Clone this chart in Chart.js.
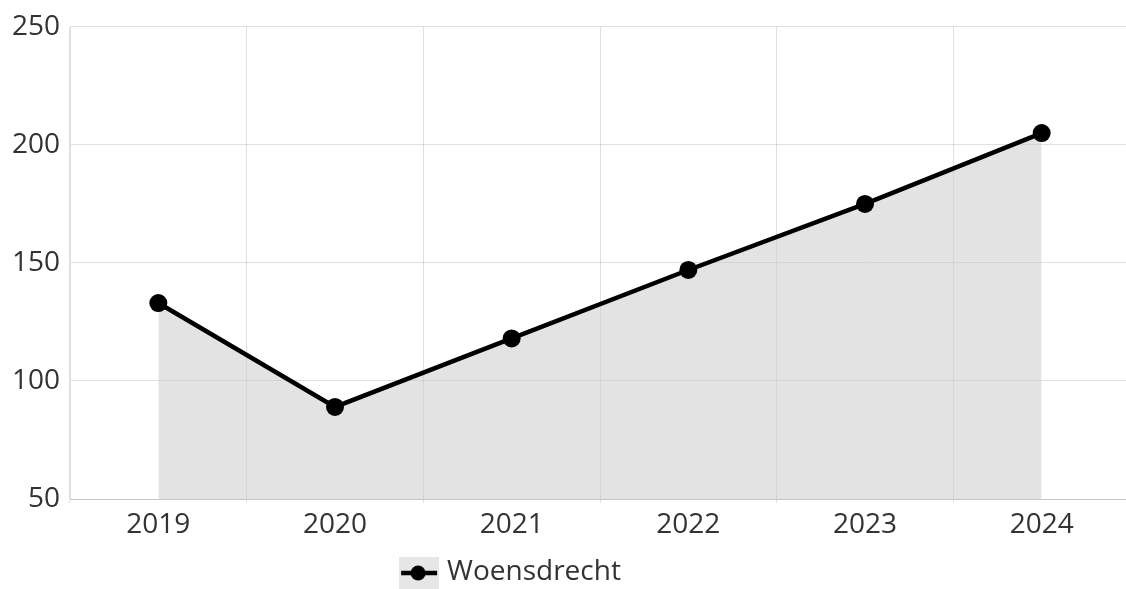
<!DOCTYPE html>
<html>
<head>
<meta charset="utf-8">
<script src="https://cdn.jsdelivr.net/npm/chart.js@4/dist/chart.umd.min.js"></script>
<style>
  html, body { margin: 0; padding: 0; background: #fff; overflow: hidden; }
  #wrap { width: 1130px; height: 589px; }
</style>
</head>
<body>
<div id="wrap"><canvas id="chart"></canvas></div>
<script>
const years = ['2019', '2020', '2021', '2022', '2023', '2024'];
const woensdrecht = [133, 89, 118, 147, 175, 205];
const yTicks = [50, 100, 150, 200, 250];

const FONT = "'Open Sans', 'Noto Sans', sans-serif";
const TEXT = '#333';
const GRID = 'rgba(0,0,0,0.12)';

// legend swatch: grey box with a line and a dot through it
function legendSwatch() {
  const c = document.createElement('canvas');
  c.width = 40; c.height = 36;
  const g = c.getContext('2d');
  g.fillStyle = '#e6e6e6';
  g.fillRect(0, 0, 40, 36);
  g.strokeStyle = '#000';
  g.lineWidth = 4.5;
  g.beginPath(); g.moveTo(2, 19); g.lineTo(38, 19); g.stroke();
  g.fillStyle = '#000';
  g.beginPath(); g.arc(19, 19, 7.5, 0, Math.PI * 2); g.fill();
  return c;
}
const swatch = legendSwatch();

// nudge the legend left of centre and down to the bottom edge
const legendShift = {
  id: 'legendShift',
  afterLayout(chart) {
    const lg = chart.legend;
    lg.left -= 52;
    lg.right -= 52;
    lg.top += 7;
    lg.bottom += 7;
  }
};

new Chart(document.getElementById('chart'), {
  type: 'line',
  data: {
    labels: years,
    datasets: [{
      label: 'Woensdrecht',
      data: woensdrecht,
      borderColor: '#000',
      backgroundColor: 'rgba(200,200,200,0.5)',
      borderWidth: 4.5,
      pointRadius: 9,
      pointBorderWidth: 0,
      pointBackgroundColor: '#000',
      fill: 'start',
      tension: 0
    }]
  },
  plugins: [legendShift],
  options: {
    responsive: true,
    maintainAspectRatio: false,
    animation: false,
    layout: { autoPadding: false, padding: { top: 24, right: 0, left: 0, bottom: 0 } },
    plugins: {
      tooltip: { enabled: false },
      legend: {
        position: 'bottom',
        labels: {
          font: { family: FONT, size: 28 },
          color: TEXT,
          usePointStyle: true,
          pointStyleWidth: 28,
          padding: 1,
          generateLabels(chart) {
            return chart.data.datasets.map((ds, i) => ({
              text: ds.label,
              pointStyle: swatch,
              datasetIndex: i,
              fontColor: TEXT,
              hidden: false
            }));
          }
        }
      }
    },
    scales: {
      x: {
        offset: true,
        grid: {
          offset: true,
          // no closing line on the right-hand edge
          color: ctx => (ctx.index >= years.length ? 'rgba(0,0,0,0)' : GRID),
          tickLength: 4
        },
        border: { color: GRID },
        ticks: { font: { family: FONT, size: 28 }, color: TEXT, padding: 5 },
        afterFit(scale) {
          scale.height = 51;
          scale.paddingLeft = 0;
          scale.paddingRight = 0;
        }
      },
      y: {
        min: 50,
        max: 250,
        afterBuildTicks(scale) { scale.ticks = yTicks.map(v => ({ value: v })); },
        grid: { color: GRID, drawTicks: false },
        border: { color: GRID },
        ticks: { font: { family: FONT, size: 28 }, color: TEXT, padding: 10 },
        afterFit(scale) { scale.width = 70; }
      }
    }
  }
});
</script>
</body>
</html>
